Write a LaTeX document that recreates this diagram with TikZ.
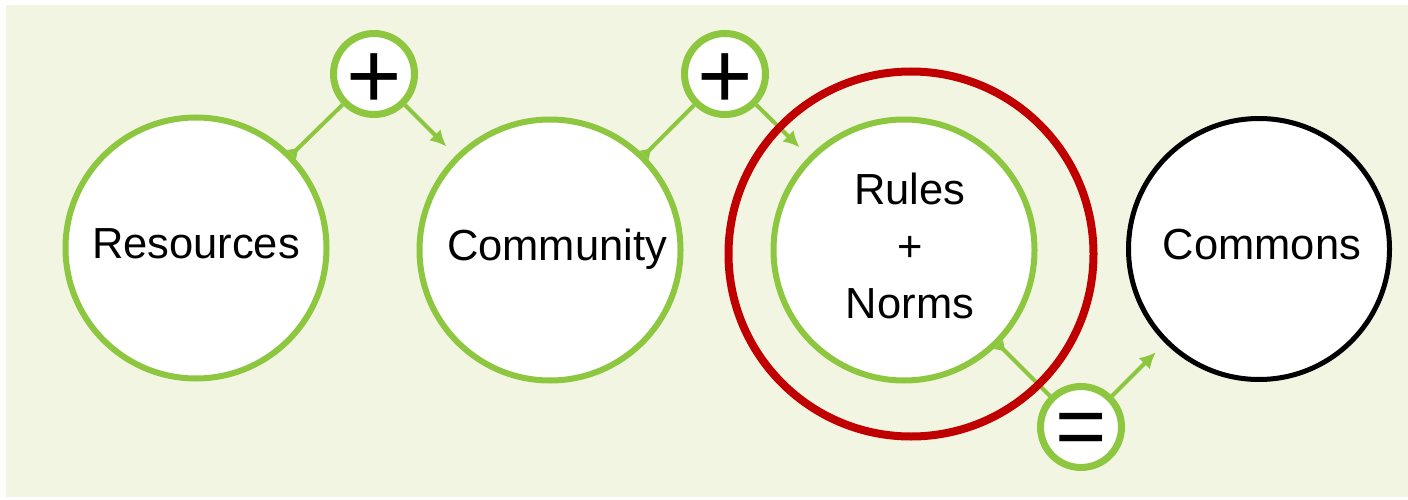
\documentclass[tikz,border=0pt]{standalone}
\usepackage{fontspec}
\setmainfont{Liberation Sans}
\usetikzlibrary{arrows.meta}
\definecolor{bg}{RGB}{242,245,226}
\definecolor{lgreen}{RGB}{141,198,63}
\definecolor{dred}{RGB}{192,0,0}
\begin{document}
\begin{tikzpicture}[x=1pt,y=-1pt,
  bubble/.style={circle, draw=lgreen, line width=6pt, fill=white, minimum size=261pt, inner sep=0pt, font=\fontsize{43.5}{57}\selectfont},
  oneline/.style={text height=30pt, text depth=10pt},
  op/.style={circle, draw=lgreen, line width=7pt, fill=white, minimum size=81pt, inner sep=0pt},
  link/.style={draw=lgreen, line width=4pt},
  feed/.style={link, -{Latex[length=16pt,width=16pt]}, shorten >=13pt},
  stubend/.style={link, -{Latex[reversed,length=11pt,width=14pt]}},
  focus/.style={circle, draw=dred, line width=8pt, minimum size=365pt, inner sep=0pt}
]
\useasboundingbox (0,0) rectangle (1408,500);
\fill[bg] (6,5) rectangle (1408,497);

\node[bubble, oneline] (res) at (196,248) {Resources};
\node[bubble, oneline] (com) at (550,250) {\hspace*{14pt}Community};
\node[bubble, align=center] (rul) at (904,250) {\hspace*{12pt}Rules\strut\\\hspace*{12pt}+\\\hspace*{12pt}Norms\strut};
\node[bubble, draw=black, line width=5pt, oneline] (cmn) at (1259,249) {\hspace*{6pt}Commons};

\node[op, font=\fontsize{95}{95}\selectfont] (p1) at (374,74) {\makebox[0pt]{\raisebox{-0.36em}[0pt][0pt]{+}}};
\node[op, font=\fontsize{95}{95}\selectfont] (p2) at (725,74) {\makebox[0pt]{\raisebox{-0.36em}[0pt][0pt]{+}}};
\node[op, font=\fontsize{88}{88}\selectfont] (eq) at (1081,427) {\makebox[0pt]{\raisebox{-0.335em}[0pt][0pt]{=}}};

\draw[stubend] (p1) -- (res);
\draw[feed] (p1) -- (com);
\draw[stubend] (p2) -- (com);
\draw[feed] (p2) -- (rul);
\draw[stubend] (eq) -- (rul);
\draw[feed] (eq) -- (cmn);

\node[focus] (ring) at (911,254) {};
\end{tikzpicture}
\end{document}
